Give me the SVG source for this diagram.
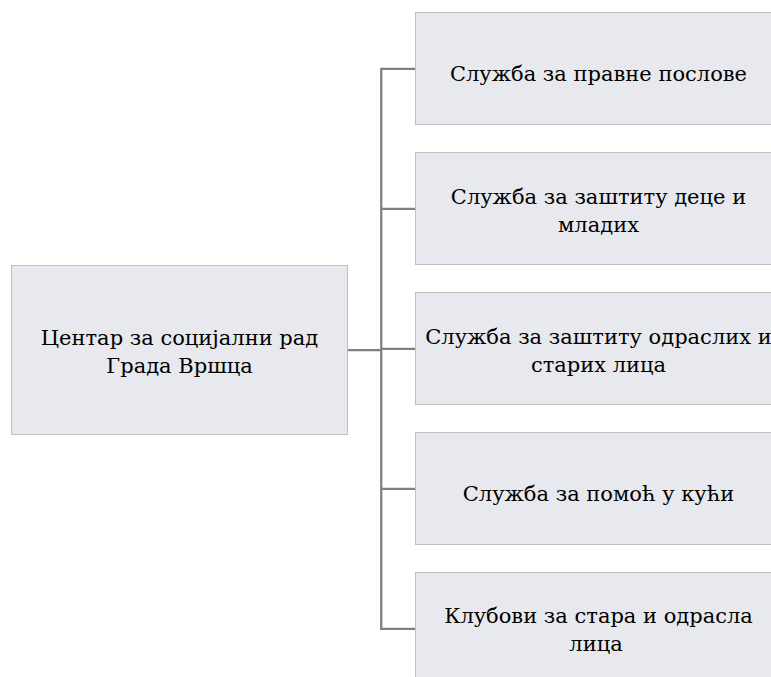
<svg xmlns="http://www.w3.org/2000/svg" width="771" height="677" viewBox="0 0 771 677">
<style>
.box{fill:#e8e9ee;stroke:#bfbfbf;stroke-width:1}
.lbl{font-family:"DejaVu Serif","Liberation Serif",serif;font-size:21px;fill:#000;text-anchor:middle}
.con{fill:none;stroke:#7f7f7f;stroke-width:2.25;stroke-linejoin:miter;stroke-linecap:butt}
</style>
<rect width="771" height="677" fill="#ffffff"/>
<g id="connectors">
<path class="con" d="M415.5,68.75 H381.25 V628.75 H415.5"/>
<path class="con" d="M347.5,350 H381.25"/>
<path class="con" d="M381.25,208.75 H415.5"/>
<path class="con" d="M381.25,348.75 H415.5"/>
<path class="con" d="M381.25,488.75 H415.5"/>
</g>
<g id="root">
<rect class="box" x="11.5" y="265.5" width="336" height="169"/>
<text class="lbl"><tspan x="179.5" y="345">Центар за социјални рад</tspan><tspan x="179.5" y="372.7">Града Вршца</tspan></text>
</g>
<g id="n1">
<rect class="box" x="415.5" y="12.5" width="366" height="112"/>
<text class="lbl" x="598.5" y="81">Служба за правне послове</text>
</g>
<g id="n2">
<rect class="box" x="415.5" y="152.5" width="366" height="112"/>
<text class="lbl"><tspan x="598.5" y="203.5">Служба за заштиту деце и</tspan><tspan x="598.5" y="231.5">младих</tspan></text>
</g>
<g id="n3">
<rect class="box" x="415.5" y="292.5" width="366" height="112"/>
<text class="lbl"><tspan x="598.5" y="344.3">Служба за заштиту одраслих и</tspan><tspan x="598.5" y="371.5">старих лица</tspan></text>
</g>
<g id="n4">
<rect class="box" x="415.5" y="432.5" width="366" height="112"/>
<text class="lbl" x="598.5" y="501">Служба за помоћ у кући</text>
</g>
<g id="n5">
<rect class="box" x="415.5" y="572.5" width="366" height="112"/>
<text class="lbl"><tspan x="598.5" y="623.3">Клубови за стара и одрасла</tspan><tspan x="596" y="651">лица</tspan></text>
</g>
</svg>
